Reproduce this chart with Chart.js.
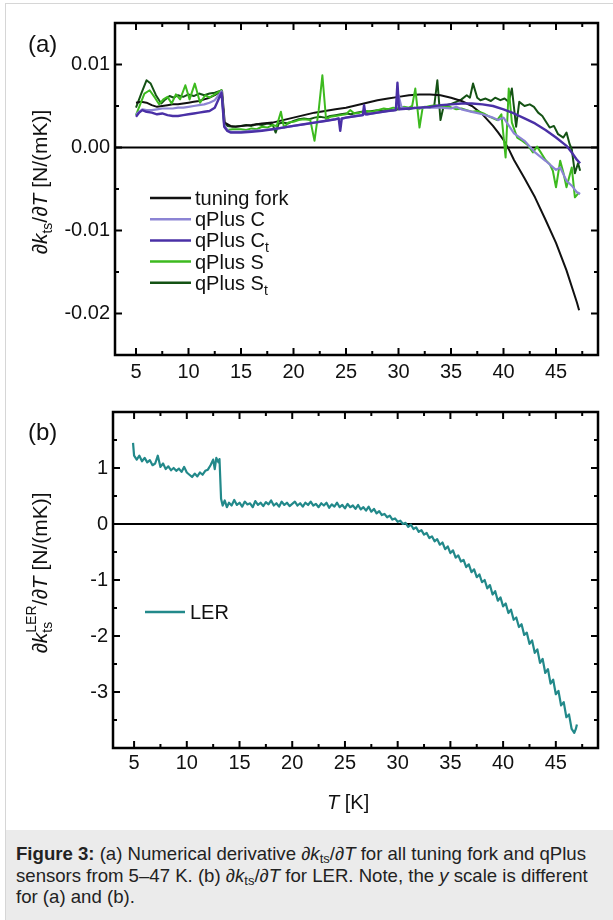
<!DOCTYPE html>
<html><head><meta charset="utf-8">
<script src="https://cdn.jsdelivr.net/npm/chart.js@4.4.0/dist/chart.umd.min.js"></script>
<style>
html,body{margin:0;padding:0;background:#fff;width:613px;height:920px;overflow:hidden;font-family:"Liberation Sans",Arial,sans-serif;}
#card{position:absolute;left:5px;top:3px;width:700px;height:1000px;border:1px solid #d6d6d6;background:#fff;box-sizing:border-box;}
#cap{position:absolute;left:6px;top:830px;width:700px;height:100px;background:#ebebeb;}
#capText{position:absolute;left:16px;top:843px;font-size:18.6px;line-height:21.5px;color:#222;white-space:nowrap;}
#capText sub{font-size:13px;line-height:0;vertical-align:-3px;}
canvas{position:absolute;left:0;}
#ca{top:0;}
#cb{top:390px;}
</style>
</head><body>
<div id="card"></div>
<div id="cap"></div>
<div id="capText"><b>Figure 3:</b> (a) Numerical derivative ∂<i>k</i><sub>ts</sub>/∂<i>T</i> for all tuning fork and qPlus<br>sensors from 5–47 K. (b) ∂<i>k</i><sub>ts</sub>/∂<i>T</i> for LER. Note, the <i>y</i> scale is different<br>for (a) and (b).</div>
<canvas id="ca" width="613" height="380"></canvas>
<canvas id="cb" width="613" height="430"></canvas>
<script>
// ---------- tick values ----------
const xMajorTicks = [5,10,15,20,25,30,35,40,45];
const xMinorTicks = [7.5,12.5,17.5,22.5,27.5,32.5,37.5,42.5,47.5];
const yMajorTicksA = [0.01,0,-0.01,-0.02];
const yMinorTicksA = [0.005,-0.005,-0.015];
const yMajorTicksB = [1,0,-1,-2,-3];
const yMinorTicksB = [1.5,0.5,-0.5,-1.5,-2.5,-3.5];

// ---------- panel (a) series ----------
const tuningForkT = [5.0,5.5,6.0,6.5,7.0,7.5,8.0,8.5,9.0,9.5,10.0,10.5,11.0,11.5,12.0,12.5,13.0,13.2,13.45,14.0,14.5,15,16,17,18,19,20,21,22,23,24,25,26,27,28,29,30,31,32,33,34,35,36,37,38,39,39.5,40,40.5,41,42,43,44,45,46,47,47.2];
const tuningForkV = [0.0054,0.0055,0.0054,0.0051,0.0049,0.0050,0.0051,0.0052,0.0052,0.0053,0.0054,0.0055,0.0056,0.0058,0.0060,0.0063,0.0067,0.0068,0.0030,0.0026,0.0025,0.0026,0.0027,0.0029,0.0030,0.0033,0.0036,0.0039,0.0042,0.0044,0.0046,0.0048,0.0051,0.0054,0.0057,0.0059,0.0061,0.0063,0.0064,0.0064,0.0063,0.0060,0.0056,0.0050,0.0040,0.0026,0.0018,0.0009,-0.0002,-0.0015,-0.0037,-0.0060,-0.0087,-0.0115,-0.0148,-0.0187,-0.0196];

const qPlusCT = [5.0,5.3,5.6,6.0,6.5,7.0,7.5,8.0,8.5,9.0,9.5,10,10.5,11,11.5,12,12.5,13,13.15,13.4,13.7,14,15,16,17,18,19,20,21,22,23,24,24.3,24.5,24.7,25,26,26.6,26.75,26.9,27,28,29,29.7,30.0,30.3,31,32,33,34,35,35.5,36,37,38,39,39.5,40,41,42,43,44,45,45.4,46,46.5,47,47.3];
const qPlusCV = [0.0040,0.0043,0.0046,0.0045,0.0045,0.0046,0.0047,0.0047,0.0047,0.0048,0.0048,0.0049,0.0050,0.0051,0.0052,0.0054,0.0057,0.0065,0.0068,0.0027,0.0021,0.0019,0.0019,0.0020,0.0021,0.0022,0.0024,0.0026,0.0028,0.0030,0.0032,0.0034,0.0035,0.0034,0.0035,0.0036,0.0038,0.0039,0.0041,0.0040,0.0040,0.0042,0.0044,0.0045,0.0063,0.0048,0.0047,0.0048,0.0048,0.0048,0.0047,0.0049,0.0046,0.0043,0.0040,0.0036,0.0033,0.0036,0.0017,0.0008,-0.0006,-0.0016,-0.0027,-0.0024,-0.0040,-0.0046,-0.0054,-0.0056];

const qPlusCtT = [5.0,5.3,5.6,6.0,6.5,7.0,7.5,8.0,8.5,9.0,9.5,10,10.5,11,11.5,12,12.5,13,13.15,13.4,13.7,14,15,16,17,18,19,20,21,22,23,24,24.3,24.45,24.6,25,26,26.6,26.72,26.85,27,28,29,29.75,29.9,30.05,31,32,33,34,35,36,37,38,39,40,41,42,43,44,45,46,46.5,47,47.3];
const qPlusCtV = [0.0037,0.0042,0.0045,0.0043,0.0042,0.0040,0.0041,0.0039,0.0038,0.0038,0.0039,0.0040,0.0041,0.0042,0.0043,0.0044,0.0048,0.0062,0.0066,0.0025,0.0020,0.0018,0.0018,0.0019,0.0020,0.0022,0.0024,0.0026,0.0028,0.0030,0.0032,0.0034,0.0035,0.0020,0.0035,0.0036,0.0038,0.0039,0.0051,0.0040,0.0040,0.0042,0.0044,0.0045,0.0078,0.0046,0.0047,0.0048,0.0049,0.0051,0.0052,0.0053,0.0053,0.0052,0.0050,0.0046,0.0041,0.0035,0.0029,0.0021,0.0012,0.0002,-0.0006,-0.0015,-0.0019];

const qPlusST = [5.0,5.4,5.8,6.3,6.8,7.2,7.6,8.0,8.4,8.8,9.2,9.7,10.1,10.6,11.1,11.6,12.0,12.5,13.0,13.15,13.4,13.7,14.2,15,15.5,16,16.5,17,17.5,18,18.4,18.8,19.1,19.5,20,20.5,21,21.6,22.0,22.4,22.75,23.1,23.5,24,24.5,25,25.4,25.8,26.3,27,27.5,28,28.6,29,29.5,30,30.5,31,31.3,31.6,32.0,32.3,33,33.5,34,34.9,35.5,36,36.5,37,37.5,38.1,38.7,39.4,39.8,40.2,40.5,40.8,41.3,41.8,42.3,42.8,43.2,43.5,44,44.4,44.7,45,45.4,45.7,46,46.5,46.8,47.2];
const qPlusSV = [0.0039,0.0052,0.0065,0.0069,0.0060,0.0052,0.0058,0.0061,0.0053,0.0064,0.0058,0.0075,0.0058,0.0077,0.0054,0.0063,0.0060,0.0064,0.0068,0.0069,0.0026,0.0021,0.0022,0.0022,0.0021,0.0023,0.0022,0.0025,0.0024,0.0027,0.0026,0.0043,0.0024,0.0030,0.0031,0.0033,0.0034,0.0033,0.0008,0.0045,0.0087,0.0034,0.0037,0.0038,0.0039,0.0040,0.0045,0.0041,0.0042,0.0044,0.0043,0.0045,0.0047,0.0046,0.0048,0.0047,0.0049,0.0048,0.0050,0.0071,0.0024,0.0048,0.0050,0.0051,0.0049,0.0049,0.0046,0.0047,0.0045,0.0043,0.0044,0.0041,0.0037,0.0033,0.0040,-0.0012,0.0071,0.0030,0.0012,0.0008,0.0003,-0.0006,0.0001,-0.0005,-0.0015,-0.0020,-0.0028,-0.0048,-0.0016,-0.0030,-0.0048,-0.0024,-0.0060,-0.0054];

const qPlusStT = [5.0,5.5,6.0,6.4,6.9,7.4,7.8,8.2,8.6,9.0,9.5,10,10.5,11,11.5,12,12.5,13,13.15,13.4,13.7,14.2,15,15.5,16,16.5,17,17.5,18,18.3,18.6,19,19.5,20,20.5,21,21.5,22,22.5,23,23.5,24,24.5,25,25.5,26,26.5,27,27.5,28,28.5,29,29.5,30,30.5,31,31.5,32,32.5,33,33.4,33.7,34.0,34.3,34.9,35.5,36,36.5,36.8,37.1,37.5,37.8,38.3,38.8,39.2,39.7,40.1,40.5,40.8,41.2,41.5,42,42.5,42.9,43.3,43.7,44,44.4,44.8,45.2,45.7,46.0,46.3,46.5,46.8,47.1,47.3];
const qPlusStV = [0.0048,0.0065,0.0081,0.0077,0.0063,0.0053,0.0058,0.0062,0.0060,0.0063,0.0061,0.0064,0.0062,0.0065,0.0063,0.0065,0.0066,0.0068,0.0069,0.0030,0.0026,0.0025,0.0026,0.0027,0.0026,0.0028,0.0027,0.0029,0.0028,0.0018,0.0029,0.0030,0.0029,0.0032,0.0034,0.0035,0.0034,0.0036,0.0037,0.0036,0.0038,0.0039,0.0040,0.0041,0.0040,0.0042,0.0043,0.0043,0.0044,0.0045,0.0044,0.0046,0.0045,0.0046,0.0047,0.0046,0.0048,0.0047,0.0049,0.0048,0.0050,0.0081,0.0033,0.0050,0.0052,0.0055,0.0058,0.0063,0.0060,0.0077,0.0060,0.0057,0.0059,0.0056,0.0060,0.0057,0.0059,0.0055,0.0071,0.0025,0.0055,0.0050,0.0052,0.0049,0.0042,0.0038,0.0032,0.0024,0.0026,0.0016,0.0012,0.0018,0.0004,-0.0002,-0.0031,-0.0019,-0.0028];

// ---------- panel (b) series ----------
const lerT = [4.9,5.0,5.25,5.5,5.75,6.0,6.25,6.5,6.75,7.0,7.25,7.5,7.75,8.0,8.25,8.5,8.75,9.0,9.25,9.5,9.75,10.0,10.25,10.5,10.75,11.0,11.25,11.5,11.75,12.0,12.25,12.5,12.65,12.8,13.0,13.1,13.25,13.4,13.6,13.8,14.0,14.25,14.5,14.75,15.0,15.25,15.5,15.75,16.0,16.25,16.5,16.75,17.0,17.25,17.5,17.75,18.0,18.25,18.5,18.75,19.0,19.25,19.5,19.75,20.0,20.25,20.5,20.75,21.0,21.25,21.5,21.75,22.0,22.25,22.5,22.75,23.0,23.25,23.5,23.75,24.0,24.25,24.5,24.75,25.0,25.25,25.5,25.75,26.0,26.25,26.5,26.75,27.0,27.25,27.5,27.75,28.0,28.25,28.5,28.75,29.0,29.25,29.5,29.75,30.0,30.25,30.5,30.75,31.0,31.25,31.5,31.75,32.0,32.25,32.5,32.75,33.0,33.25,33.5,33.75,34.0,34.25,34.5,34.75,35.0,35.25,35.5,35.75,36.0,36.25,36.5,36.75,37.0,37.25,37.5,37.75,38.0,38.25,38.5,38.75,39.0,39.25,39.5,39.75,40.0,40.25,40.5,40.75,41.0,41.25,41.5,41.75,42.0,42.25,42.5,42.75,43.0,43.25,43.5,43.75,44.0,44.25,44.5,44.75,45.0,45.25,45.5,45.75,46.0,46.25,46.5,46.75,46.9,47.0,47.1];
const lerV = [1.45,1.22,1.15,1.22,1.12,1.18,1.10,1.14,1.05,1.08,1.22,1.02,1.08,0.98,1.03,0.96,1.00,0.95,0.99,0.93,1.02,0.92,0.88,0.84,0.90,0.85,0.92,0.88,0.95,0.97,1.05,1.15,0.98,1.18,1.10,1.16,0.45,0.33,0.42,0.30,0.38,0.33,0.43,0.34,0.38,0.31,0.40,0.35,0.37,0.30,0.41,0.34,0.38,0.32,0.39,0.35,0.42,0.33,0.37,0.31,0.40,0.34,0.38,0.32,0.36,0.40,0.33,0.37,0.31,0.38,0.34,0.40,0.33,0.36,0.30,0.37,0.33,0.38,0.29,0.35,0.31,0.38,0.30,0.34,0.28,0.36,0.30,0.33,0.27,0.34,0.26,0.30,0.24,0.31,0.22,0.27,0.19,0.23,0.16,0.18,0.12,0.15,0.08,0.10,0.04,0.06,0.00,0.02,-0.05,-0.01,-0.09,-0.06,-0.14,-0.11,-0.19,-0.16,-0.25,-0.22,-0.31,-0.27,-0.37,-0.33,-0.45,-0.40,-0.52,-0.47,-0.60,-0.56,-0.67,-0.64,-0.77,-0.72,-0.86,-0.81,-0.95,-0.90,-1.04,-1.00,-1.15,-1.09,-1.26,-1.20,-1.37,-1.31,-1.47,-1.42,-1.59,-1.53,-1.71,-1.67,-1.84,-1.79,-1.98,-1.94,-2.14,-2.08,-2.30,-2.24,-2.48,-2.41,-2.66,-2.59,-2.85,-2.78,-3.04,-2.98,-3.24,-3.18,-3.45,-3.40,-3.66,-3.73,-3.66,-3.58];

const FONT = '"Liberation Sans", Arial, sans-serif';
const pts = (T, V) => T.map((t, i) => ({x: t, y: V[i]}));

function richWidth(ctx, parts) {
  let w = 0;
  for (const p of parts) {
    ctx.font = (p.it ? 'italic ' : '') + p.s + 'px ' + FONT;
    const pw = ctx.measureText(p.t).width;
    if (p.stack) { ctx.font = p.s + 'px ' + FONT; w += Math.max(pw, ctx.measureText(p.stack.t).width); }
    else w += pw;
  }
  return w;
}
function drawRich(ctx, parts, x, y) {
  let cx = x;
  for (const p of parts) {
    ctx.font = (p.it ? 'italic ' : '') + p.s + 'px ' + FONT;
    ctx.fillText(p.t, cx, y + (p.dy || 0));
    let adv = ctx.measureText(p.t).width;
    if (p.stack) {
      ctx.font = p.stack.s + 'px ' + FONT;
      ctx.fillText(p.stack.t, cx, y + p.stack.dy);
      adv = Math.max(adv, ctx.measureText(p.stack.t).width);
    }
    cx += adv;
  }
}
function drawRotTitle(ctx, parts, bx, cy) {
  ctx.save();
  ctx.translate(bx, cy);
  ctx.rotate(-Math.PI / 2);
  ctx.fillStyle = '#111';
  ctx.textBaseline = 'alphabetic';
  const w = richWidth(ctx, parts);
  drawRich(ctx, parts, -w / 2, 0);
  ctx.restore();
}

function makeFrame(cfg) {
  return {
    id: 'frame_' + cfg.name,
    beforeDatasetsDraw(chart) {
      const {ctx, chartArea: a, scales: {y}} = chart;
      const py = y.getPixelForValue(0);
      ctx.save(); ctx.strokeStyle = '#000'; ctx.lineWidth = 2;
      ctx.beginPath(); ctx.moveTo(a.left, py); ctx.lineTo(a.right, py); ctx.stroke();
      ctx.restore();
    },
    afterDatasetsDraw(chart) {
      const {ctx, chartArea: a, scales: {x, y}} = chart;
      ctx.save(); ctx.strokeStyle = '#000'; ctx.lineWidth = 2;
      ctx.beginPath();
      const xt = (vals, len) => vals.forEach(v => { const p = x.getPixelForValue(v);
        ctx.moveTo(p, a.bottom); ctx.lineTo(p, a.bottom - len); ctx.moveTo(p, a.top); ctx.lineTo(p, a.top + len); });
      const yt = (vals, len) => vals.forEach(v => { const p = y.getPixelForValue(v);
        ctx.moveTo(a.left, p); ctx.lineTo(a.left + len, p); ctx.moveTo(a.right, p); ctx.lineTo(a.right - len, p); });
      xt(xMajorTicks, 7); xt(xMinorTicks, 4);
      yt(cfg.yMajor, 7); yt(cfg.yMinor, 4);
      ctx.stroke();
      ctx.lineWidth = 2.5;
      ctx.strokeRect(a.left, a.top, a.right - a.left, a.bottom - a.top);
      ctx.restore();
    },
    afterDraw(chart) { cfg.decorate(chart); }
  };
}

function baseOptions(cfg) {
  return {
    responsive: false, animation: false, devicePixelRatio: 1,
    layout: {padding: {left: 0, right: 15, top: cfg.padTop, bottom: 0}},
    plugins: {legend: {display: false}, tooltip: {enabled: false}},
    elements: {point: {radius: 0}, line: {tension: 0, borderJoinStyle: 'round'}},
    scales: {
      x: {
        type: 'linear', min: 3, max: 49,
        grid: {display: false, drawTicks: false}, border: {display: false},
        afterBuildTicks: s => { s.ticks = xMajorTicks.map(v => ({value: v})); },
        afterFit: s => { s.height = cfg.xHeight; },
        ticks: {font: {family: FONT, size: 20}, color: '#111', padding: cfg.xPad, maxRotation: 0, autoSkip: false,
          callback: v => String(v)}
      },
      y: {
        type: 'linear', min: cfg.yMin, max: cfg.yMax,
        grid: {display: false, drawTicks: false}, border: {display: false},
        afterBuildTicks: s => { s.ticks = cfg.yMajor.map(v => ({value: v})); },
        afterFit: s => { s.width = cfg.yWidth; },
        ticks: {font: {family: FONT, size: 20}, color: '#111', padding: 5, autoSkip: false,
          callback: cfg.yFmt}
      }
    }
  };
}

// ---------- chart (a) ----------
const cfgA = {
  name: 'a', padTop: 23, xHeight: 25, xPad: 5, yWidth: 115, yMin: -0.025, yMax: 0.015,
  yMajor: yMajorTicksA, yMinor: yMinorTicksA, yFmt: v => v.toFixed(2),
  decorate(chart) {
    const ctx = chart.ctx;
    ctx.save();
    ctx.fillStyle = '#111';
    ctx.font = '24px ' + FONT; ctx.textBaseline = 'alphabetic';
    ctx.fillText('(a)', 28, 52);
    drawRotTitle(ctx, [
      {t: '∂', s: 21}, {t: 'k', s: 21, it: true}, {t: 'ts', s: 14, dy: 5},
      {t: '/∂', s: 21}, {t: 'T', s: 21, it: true}, {t: ' [N/(mK)]', s: 21}
    ], 47, 182);
    // legend
    const ds = chart.data.datasets;
    const subs = ['', '', 't', '', 't'];
    ds.forEach((d, i) => {
      const yy = 198 + i * 21.2;
      ctx.strokeStyle = d.borderColor; ctx.lineWidth = 2.5;
      ctx.beginPath(); ctx.moveTo(150, yy); ctx.lineTo(191, yy); ctx.stroke();
      ctx.fillStyle = '#111';
      const parts = [{t: d.label, s: 20}];
      if (subs[i]) parts.push({t: subs[i], s: 14, dy: 5});
      drawRich(ctx, parts, 195, yy + 7);
    });
    ctx.restore();
  }
};
new Chart(document.getElementById('ca'), {
  type: 'line',
  data: {datasets: [
    {label: 'tuning fork', data: pts(tuningForkT, tuningForkV), borderColor: '#111111', borderWidth: 2, order: 4},
    {label: 'qPlus C', data: pts(qPlusCT, qPlusCV), borderColor: '#8c84d4', borderWidth: 2.2, order: 2},
    {label: 'qPlus C', data: pts(qPlusCtT, qPlusCtV), borderColor: '#4a30a6', borderWidth: 2.4, order: 1},
    {label: 'qPlus S', data: pts(qPlusST, qPlusSV), borderColor: '#3dba1f', borderWidth: 2, order: 3},
    {label: 'qPlus S', data: pts(qPlusStT, qPlusStV), borderColor: '#145214', borderWidth: 2, order: 5}
  ]},
  options: baseOptions(cfgA),
  plugins: [makeFrame(cfgA)]
});

// ---------- chart (b) ----------
const cfgB = {
  name: 'b', padTop: 22, xHeight: 72, xPad: 3, yWidth: 113, yMin: -4, yMax: 2,
  yMajor: yMajorTicksB, yMinor: yMinorTicksB, yFmt: v => String(v),
  decorate(chart) {
    const ctx = chart.ctx;
    ctx.save();
    ctx.fillStyle = '#111';
    ctx.font = '24px ' + FONT; ctx.textBaseline = 'alphabetic';
    ctx.fillText('(b)', 28, 50);
    drawRotTitle(ctx, [
      {t: '∂', s: 21}, {t: 'k', s: 21, it: true}, {t: 'ts', s: 14, dy: 5, stack: {t: 'LER', s: 14, dy: -11}},
      {t: '/∂', s: 21}, {t: 'T', s: 21, it: true}, {t: ' [N/(mK)]', s: 21}
    ], 47, 183);
    const ds = chart.data.datasets[0];
    ctx.strokeStyle = ds.borderColor; ctx.lineWidth = 2.5;
    ctx.beginPath(); ctx.moveTo(145, 222); ctx.lineTo(185, 222); ctx.stroke();
    ctx.fillStyle = '#111';
    ctx.font = '20px ' + FONT;
    ctx.fillText(ds.label, 190, 229);
    // x title
    drawRich(ctx, [{t: 'T', s: 20, it: true}, {t: ' [K]', s: 20}], 327, 419);
    ctx.restore();
  }
};
new Chart(document.getElementById('cb'), {
  type: 'line',
  data: {datasets: [
    {label: 'LER', data: pts(lerT, lerV), borderColor: '#22898a', borderWidth: 2.2}
  ]},
  options: baseOptions(cfgB),
  plugins: [makeFrame(cfgB)]
});
</script>
</body></html>
